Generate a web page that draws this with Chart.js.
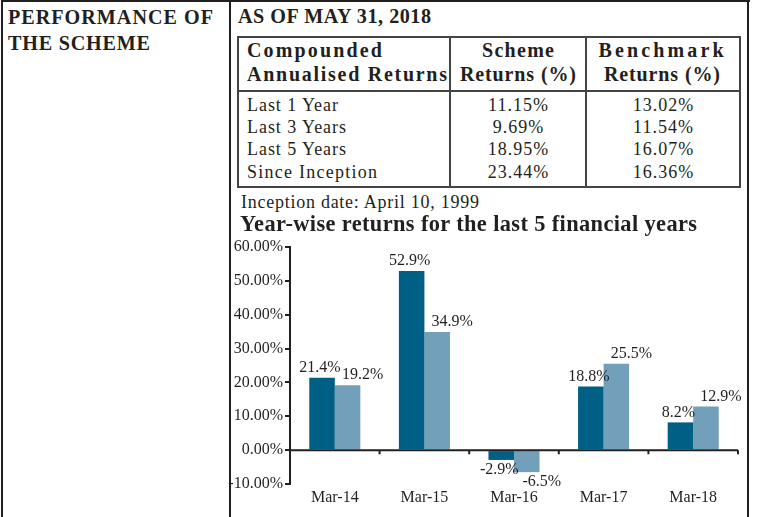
<!DOCTYPE html>
<html><head><meta charset="utf-8">
<script src="https://cdn.jsdelivr.net/npm/chart.js@4.4.1/dist/chart.umd.min.js"></script>
<style>
html,body{margin:0;padding:0;background:#fff;}
body{width:759px;height:517px;position:relative;overflow:hidden;font-family:"Liberation Serif",serif;color:#231f20;}
.ln{position:absolute;background:#231f20;}
.tl{position:absolute;background:#444;}
.t{position:absolute;white-space:nowrap;line-height:1;}
#wrap{position:absolute;left:215px;top:230px;width:530px;height:287px;}
</style></head><body>
<!-- outer frame -->
<div class="ln" style="left:1px;top:0;width:749px;height:2px"></div>
<div class="ln" style="left:1px;top:0;width:2px;height:517px"></div>
<div class="ln" style="left:229px;top:0;width:2px;height:517px"></div>
<div class="ln" style="left:747px;top:0;width:2px;height:517px"></div>
<!-- returns table frame -->
<div class="tl" style="left:237px;top:36px;width:504px;height:2px"></div>
<div class="tl" style="left:237px;top:186px;width:504px;height:2px"></div>
<div class="tl" style="left:237px;top:36px;width:2px;height:152px"></div>
<div class="tl" style="left:739px;top:36px;width:2px;height:152px"></div>
<div class="tl" style="left:237px;top:90px;width:504px;height:1.5px"></div>
<div class="tl" style="left:449px;top:36px;width:1.5px;height:152px"></div>
<div class="tl" style="left:585px;top:36px;width:1.5px;height:152px"></div>
<div id="wrap"><canvas id="c" width="530" height="287"></canvas></div>
<script>
// ---- data ----
const periods = ["Last 1 Year", "Last 3 Years", "Last 5 Years", "Since Inception"];
const schemeReturns = ["11.15%", "9.69%", "18.95%", "23.44%"];
const benchmarkReturns = ["13.02%", "11.54%", "16.07%", "16.36%"];
const years = ["Mar-14", "Mar-15", "Mar-16", "Mar-17", "Mar-18"];
const schemeYearly = [21.4, 52.9, -2.9, 18.8, 8.2];
const benchmarkYearly = [19.2, 34.9, -6.5, 25.5, 12.9];
const yTicks = [-10, 0, 10, 20, 30, 40, 50, 60];

// ---- text layout helper ----
// size: font px; target: ink width to fit; fixed: keep size and only adjust letter spacing
function place(text, x, y, size, bold, align, target, ls, fixed) {
  const el = document.createElement('div');
  el.className = 't';
  el.textContent = text;
  el.style.fontSize = size + 'px';
  el.style.fontWeight = bold ? '700' : '400';
  document.body.appendChild(el);
  const n = [...text].length;
  let w0 = el.getBoundingClientRect().width;
  let spacing = ls || 0;
  if (target) {
    if (!fixed) {
      const s = Math.min(Math.max(target / w0, 0.92), 1.12);
      size = size * s;
      el.style.fontSize = size + 'px';
      w0 = el.getBoundingClientRect().width;
    }
    spacing = (target - w0) / (n - 1);
  }
  el.style.letterSpacing = spacing + 'px';
  const inkW = w0 + spacing * (n - 1);
  el.style.top = (y - 0.506 * size) + 'px';
  el.style.left = (align === 'center' ? x - inkW / 2 : x) + 'px';
}
place("PERFORMANCE OF", 8, 17, 18, true, 'left', 205);
place("THE SCHEME", 8, 43, 18, true, 'left', 142);
place("AS OF MAY 31, 2018", 238, 16, 18, true, 'left', 193);
const HS = 20;
place("Compounded", 247, 50, HS, true, 'left', 135, 0, true);
place("Annualised Returns", 247, 74, HS, true, 'left', 200, 0, true);
place("Scheme", 518, 50, HS, true, 'center', 72, 0, true);
place("Returns (%)", 518, 74, HS, true, 'center', 116, 0, true);
place("Benchmark", 661, 50, HS, true, 'center', 125, 0, true);
place("Returns (%)", 662, 74, HS, true, 'center', 116, 0, true);
const rowY = [105, 127, 149, 172];
const rowW = [91, 99, 99, 130];
periods.forEach((p, i) => {
  place(p, 247, rowY[i], 18, false, 'left', rowW[i], 0, true);
  place(schemeReturns[i], 518, rowY[i], 18, false, 'center', null, 1);
  place(benchmarkReturns[i], 663, rowY[i], 18, false, 'center', null, 1);
});
place("Inception date: April 10, 1999", 241, 202, 18, false, 'left', 238, 0, true);
place("Year-wise returns for the last 5 financial years", 240, 224, 20, true, 'left', 457);

// ---- chart ----
const ink = '#231f20';
const FONT = 'Liberation Serif';
const zeroAxis = {
  id: 'zeroAxis',
  afterDatasetsDraw(chart) {
    const { ctx, chartArea, scales: { x, y } } = chart;
    const y0 = y.getPixelForValue(0);
    ctx.save();
    ctx.strokeStyle = ink;
    ctx.lineWidth = 2;
    ctx.beginPath();
    ctx.moveTo(chartArea.left, y0);
    ctx.lineTo(chartArea.right, y0);
    for (let i = 1; i <= years.length; i++) {
      const xb = x.getPixelForValue(i - 0.5);
      ctx.moveTo(xb, y0);
      ctx.lineTo(xb, y0 + 4);
    }
    ctx.stroke();
    ctx.restore();
  }
};
const valueLabels = {
  id: 'valueLabels',
  afterDatasetsDraw(chart) {
    const { ctx } = chart;
    const dx = [-2, 15];
    ctx.save();
    ctx.font = '16px "' + FONT + '"';
    ctx.fillStyle = ink;
    ctx.textAlign = 'center';
    chart.data.datasets.forEach((ds, di) => {
      chart.getDatasetMeta(di).data.forEach((bar, i) => {
        const v = ds.data[i];
        const txt = v.toFixed(1) + '%';
        if (v >= 0) { ctx.textBaseline = 'bottom'; ctx.fillText(txt, bar.x + dx[di], bar.y - 2); }
        else { ctx.textBaseline = 'top'; ctx.fillText(txt, bar.x + dx[di], bar.y + 2); }
      });
    });
    ctx.restore();
  }
};
new Chart(document.getElementById('c'), {
  type: 'bar',
  data: {
    labels: years,
    datasets: [
      { label: 'Scheme', data: schemeYearly, backgroundColor: '#005f85', borderWidth: 0 },
      { label: 'Benchmark', data: benchmarkYearly, backgroundColor: '#729fba', borderWidth: 0 }
    ]
  },
  options: {
    responsive: false,
    devicePixelRatio: 1,
    animation: false,
    layout: { padding: { top: 17, right: 7, bottom: 0, left: 0 } },
    datasets: { bar: { categoryPercentage: 0.57, barPercentage: 1 } },
    plugins: { legend: { display: false }, tooltip: { enabled: false } },
    scales: {
      x: {
        grid: { display: false, drawTicks: false },
        border: { display: false },
        ticks: { padding: 4, color: ink, font: { family: FONT, size: 16 } },
        afterFit(s) { s.height = 33; }
      },
      y: {
        min: yTicks[0], max: yTicks[yTicks.length - 1],
        afterBuildTicks(s) { s.ticks = yTicks.map(v => ({ value: v })); },
        ticks: { padding: 2, color: ink, font: { family: FONT, size: 16 }, callback: v => v.toFixed(2) + '%' },
        grid: { drawOnChartArea: false, drawTicks: true, tickLength: 5, color: ink, lineWidth: 2 },
        border: { display: true, color: ink, width: 2 },
        afterFit(s) { s.width = 75; }
      }
    }
  },
  plugins: [zeroAxis, valueLabels]
});
</script>
</body></html>
